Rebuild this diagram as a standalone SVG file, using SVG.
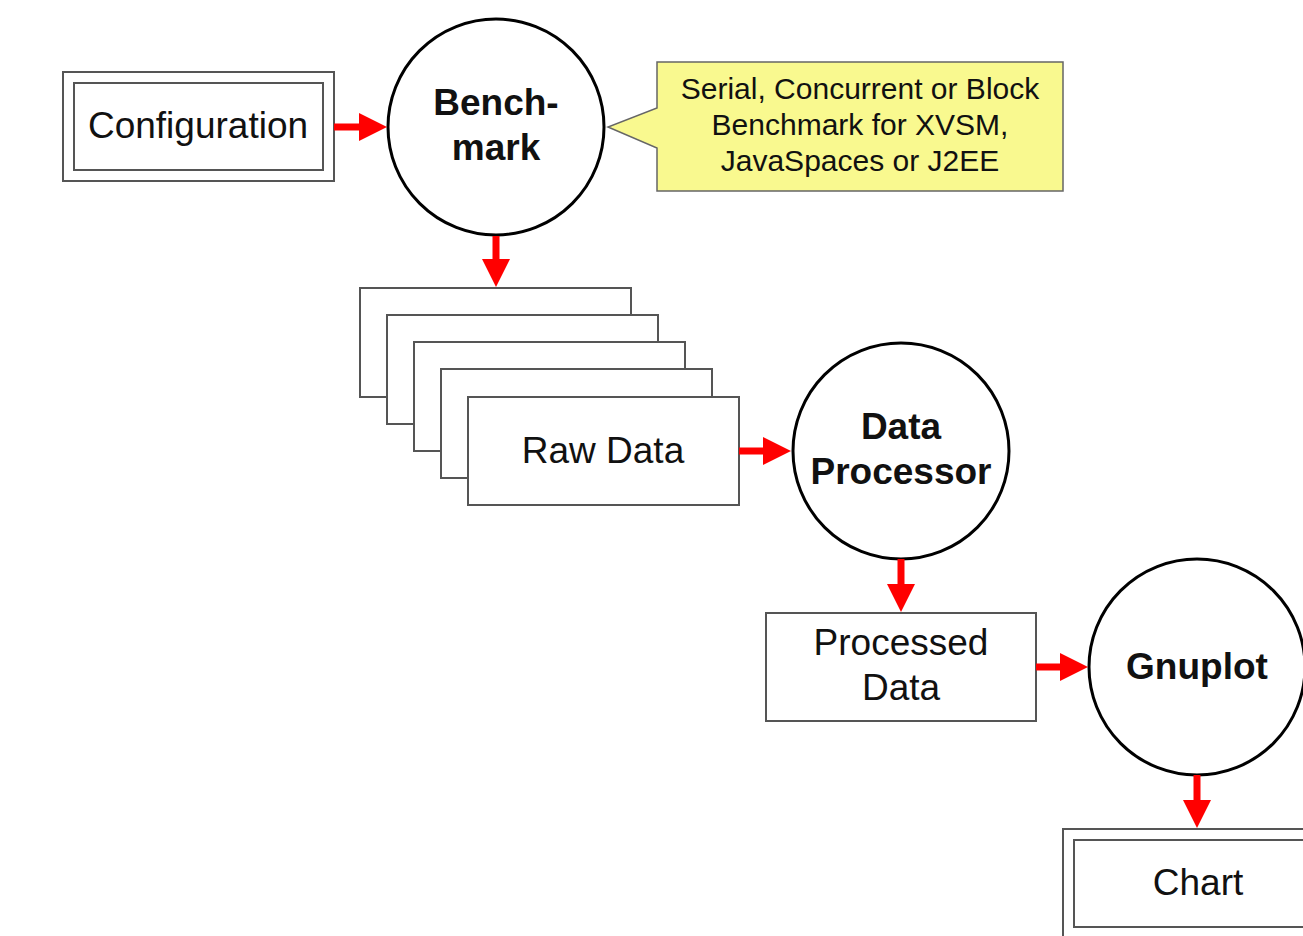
<svg xmlns="http://www.w3.org/2000/svg" width="1303" height="936" viewBox="0 0 1303 936">
<style>
.box{fill:#fff;stroke:#555;stroke-width:2}
.circ{fill:#fff;stroke:#000;stroke-width:3}
.t{font-family:"Liberation Sans",Arial,sans-serif;font-size:37px;fill:#111;text-anchor:middle}
.b{font-weight:bold}
.c{font-size:30px}
.arr{stroke:#f00;stroke-width:7;fill:none;marker-end:url(#ah)}
</style>
<defs>
<marker id="ah" markerUnits="userSpaceOnUse" markerWidth="28" markerHeight="28" refX="18" refY="14" orient="auto">
<path d="M0,0 L28,14 L0,28 Z" fill="#f00"/>
</marker>
</defs>
<rect width="1303" height="936" fill="#fff"/>
<g id="configuration">
<rect class="box" x="63" y="72" width="271" height="109"/>
<rect class="box" x="74" y="83" width="249" height="87"/>
<text class="t" x="198" y="138">Configuration</text>
</g>
<g id="benchmark">
<circle class="circ" cx="496" cy="127" r="108"/>
<text class="t b" x="496" y="115">Bench-</text>
<text class="t b" x="496" y="160">mark</text>
</g>
<g id="note">
<path d="M657,62 H1063 V191 H657 V148 L608,127 L657,108 Z" fill="#f9f98f" stroke="#666" stroke-width="1.5"/>
<text class="t c" x="860" y="99">Serial, Concurrent or Block</text>
<text class="t c" x="860" y="135">Benchmark for XVSM,</text>
<text class="t c" x="860" y="171">JavaSpaces or J2EE</text>
</g>
<g id="rawdata">
<rect class="box" x="360" y="288" width="271" height="109"/>
<rect class="box" x="387" y="315" width="271" height="109"/>
<rect class="box" x="414" y="342" width="271" height="109"/>
<rect class="box" x="441" y="369" width="271" height="109"/>
<rect class="box" x="468" y="397" width="271" height="108"/>
<text class="t" x="603" y="463">Raw Data</text>
</g>
<g id="dataprocessor">
<circle class="circ" cx="901" cy="451" r="108"/>
<text class="t b" x="901" y="439">Data</text>
<text class="t b" x="901" y="484">Processor</text>
</g>
<g id="processeddata">
<rect class="box" x="766" y="613" width="270" height="108"/>
<text class="t" x="901" y="655">Processed</text>
<text class="t" x="901" y="700">Data</text>
</g>
<g id="gnuplot">
<circle class="circ" cx="1197" cy="667" r="108"/>
<text class="t b" x="1197" y="679">Gnuplot</text>
</g>
<g id="chart">
<rect class="box" x="1063" y="829" width="271" height="109"/>
<rect class="box" x="1074" y="840" width="249" height="87"/>
<text class="t" x="1198" y="895">Chart</text>
</g>
<g id="connectors">
<line class="arr" x1="334" y1="127" x2="377" y2="127"/>
<line class="arr" x1="496" y1="236" x2="496" y2="277"/>
<line class="arr" x1="739" y1="451" x2="781" y2="451"/>
<line class="arr" x1="901" y1="559" x2="901" y2="602"/>
<line class="arr" x1="1036" y1="667" x2="1078" y2="667"/>
<line class="arr" x1="1197" y1="775" x2="1197" y2="818"/>
</g>
</svg>
